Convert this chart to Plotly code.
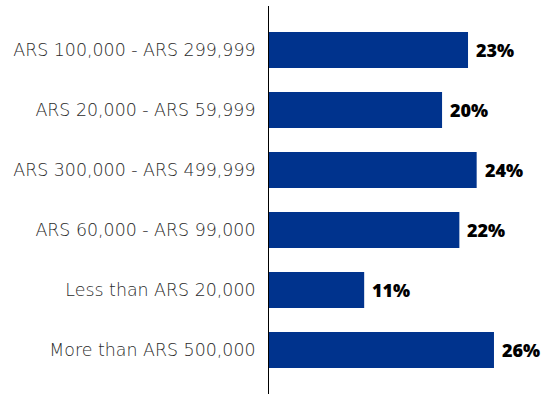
import plotly.graph_objects as go

# Household income bands and share of respondents (%)
categories = [
    "ARS 100,000 - ARS 299,999",
    "ARS 20,000 - ARS 59,999",
    "ARS 300,000 - ARS 499,999",
    "ARS 60,000 - ARS 99,000",
    "Less than ARS 20,000",
    "More than ARS 500,000",
]
shares = [23, 20, 24, 22, 11, 26]
value_labels = [f"{v}%" for v in shares]

fig = go.Figure(
    go.Bar(
        x=shares,
        y=categories,
        orientation="h",
        width=0.6,
        marker=dict(color="#00338D", line=dict(width=0)),
        hoverinfo="skip",
    )
)

# Percentage labels just past the end of each bar
for cat, val, lab in zip(categories, shares, value_labels):
    fig.add_annotation(
        x=val,
        y=cat,
        text=lab,
        showarrow=False,
        xanchor="left",
        yanchor="middle",
        xshift=6,
        font=dict(family="Open Sans", size=18, color="#000000", weight=800),
    )

fig.update_layout(
    width=542,
    height=394,
    margin=dict(l=269, r=0, t=6, b=0),
    paper_bgcolor="white",
    plot_bgcolor="white",
    showlegend=False,
    font=dict(family="DejaVu Sans", size=16, color="#2b2b2b"),
)
fig.update_xaxes(
    range=[0, 31.55],
    visible=False,
    showgrid=False,
    zeroline=False,
)
fig.update_yaxes(
    range=[5.733, -0.733],
    showgrid=False,
    zeroline=False,
    showline=True,
    linecolor="#000000",
    linewidth=1,
    ticks="",
    ticklabelstandoff=9,
    tickfont=dict(family="DejaVu Sans", size=17.4, color="#2b2b2b", weight=300),
)

fig.write_html("out.html")
